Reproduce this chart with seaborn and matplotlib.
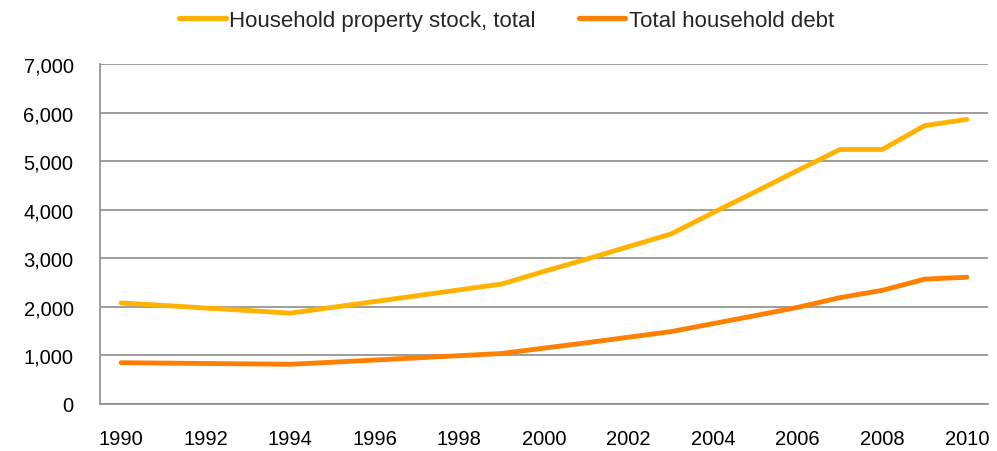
import matplotlib
matplotlib.use("Agg")
import matplotlib.pyplot as plt
import seaborn as sns
import pandas as pd

years = list(range(1990, 2011))
property_stock = [2080, 2030, 1975, 1925, 1870, 1990, 2110, 2230, 2350, 2470,
                  2730, 2980, 3240, 3500, 3940, 4370, 4810, 5240, 5240, 5730, 5860]
household_debt = [850, 842, 834, 826, 818, 860, 905, 950, 995, 1040,
                  1150, 1260, 1375, 1490, 1655, 1820, 1990, 2190, 2340, 2570, 2610]
series_names = ["Household property stock, total", "Total household debt"]
series_colors = ["#FFB300", "#FF8000"]
x_ticks = list(range(1990, 2011, 2))
y_ticks = list(range(0, 7001, 1000))

df = pd.DataFrame({
    "year": years * 2,
    "value": property_stock + household_debt,
    "series": [series_names[0]] * len(years) + [series_names[1]] * len(years),
})

sns.set_theme(style="white")
plt.rcParams["font.family"] = ["Liberation Sans", "DejaVu Sans"]

fig = plt.figure(figsize=(9.97, 4.52), dpi=100)
ax = fig.add_axes([100 / 997, 1 - 405 / 452, 888 / 997, 340 / 452])

sns.lineplot(data=df, x="year", y="value", hue="series", palette=series_colors,
             linewidth=3.5, ax=ax, legend=False, solid_capstyle="round")

ax.set_xlim(1989.5, 2010.5)
ax.set_ylim(0, 7000)
ax.set_xticks(x_ticks)
ax.set_yticks(y_ticks)
ax.set_yticklabels([f"{v:,}" for v in y_ticks])
ax.set_xlabel("")
ax.set_ylabel("")
ax.tick_params(axis="both", length=0, labelsize=14.5, colors="black")
ax.tick_params(axis="y", pad=19)
ax.tick_params(axis="x", pad=18)
ax.grid(axis="y", color="#8C8C8C", linewidth=1.2)
ax.set_axisbelow(True)
for side in ["top", "right"]:
    ax.spines[side].set_visible(False)
for side in ["left", "bottom"]:
    ax.spines[side].set_color("#8C8C8C")
    ax.spines[side].set_linewidth(1.2)

handles = [plt.Line2D([], [], color=c, linewidth=3.8, solid_capstyle="round") for c in series_colors]
fig.legend(handles, series_names, loc="center", bbox_to_anchor=(0.508, 0.952), ncol=2,
           frameon=False, fontsize=16, handlelength=2.1, handletextpad=0.15,
           columnspacing=1.95)

fig.savefig("out.png", dpi=100, facecolor="white")
